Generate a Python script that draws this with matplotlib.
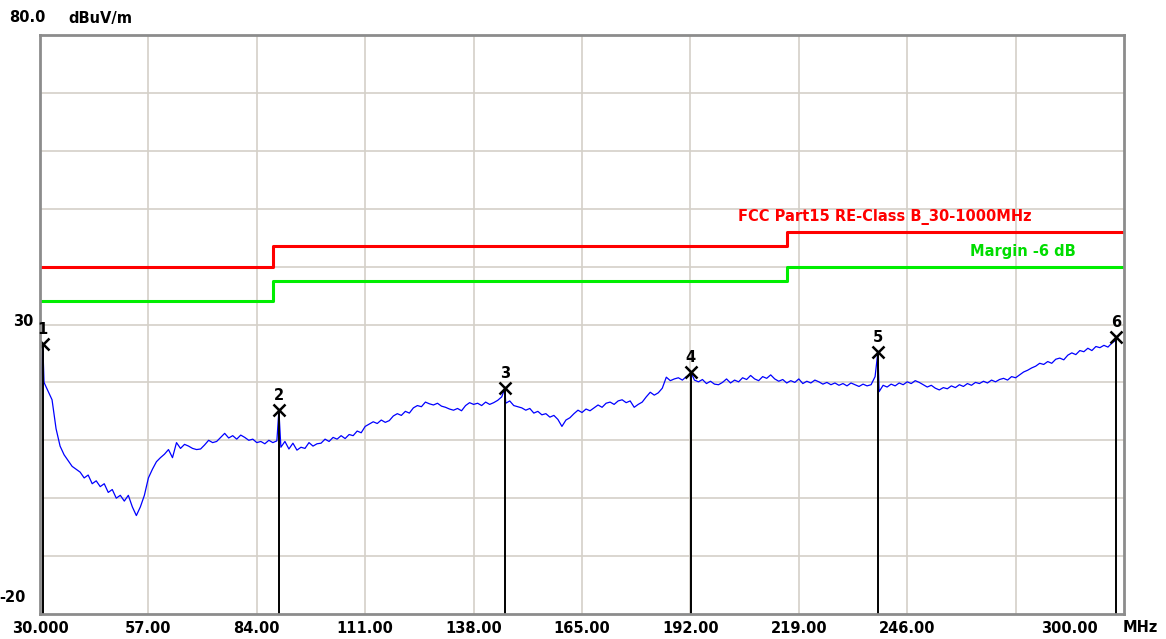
import numpy as np
import matplotlib
matplotlib.use('Agg')
import matplotlib.pyplot as plt
import matplotlib.transforms as mtransforms

# measured trace, 1 MHz steps from 30 to 298 MHz (dBuV/m)
freq = np.arange(30, 299, 1)
level = [
    17.0, 20.0, 18.5, 17.0, 12.0, 9.0, 7.5, 6.5, 5.5, 5.0,          # 30-39
    4.5, 3.5, 4.0, 2.5, 3.0, 2.0, 2.5, 1.0, 1.5, 0.0,               # 40-49
    0.5, -0.5, 0.5, -1.5, -3.0, -1.5, 0.5, 3.5, 5.0, 6.3,           # 50-59
    7.0, 7.6, 8.4, 7.0, 9.6, 8.6, 9.3, 9.0, 8.6, 8.4,               # 60-69
    8.5, 9.2, 10.0, 9.6, 9.8, 10.5, 11.2, 10.4, 10.8, 10.2,         # 70-79
    10.9, 10.5, 10.0, 10.2, 9.6, 9.8, 9.4, 10.0, 9.6, 9.9,          # 80-89
    8.8, 9.8, 8.5, 9.5, 8.3, 8.8, 8.6, 9.6, 9.0, 9.4,               # 90-99
    9.5, 10.2, 9.8, 10.5, 10.2, 10.8, 10.3, 11.0, 10.8, 11.6,       # 100-109
    11.3, 12.4, 12.8, 13.2, 12.9, 13.5, 13.1, 13.4, 14.2, 14.6,     # 110-119
    14.3, 15.0, 14.7, 15.6, 16.0, 15.8, 16.6, 16.3, 16.1, 16.4,     # 120-129
    15.9, 15.7, 15.4, 15.2, 15.5, 15.1, 16.0, 16.5, 16.2, 16.4,     # 130-139
    16.0, 16.6, 16.2, 16.5, 16.9, 17.5, 16.4, 16.8, 16.0, 15.8,     # 140-149
    15.6, 15.2, 15.5, 14.7, 15.0, 14.4, 14.6, 14.0, 14.3, 13.6,     # 150-159
    12.4, 13.5, 13.9, 14.6, 15.2, 14.8, 15.4, 15.1, 15.6, 16.1,     # 160-169
    15.7, 16.4, 16.6, 16.2, 16.8, 17.0, 16.5, 16.8, 15.7, 16.2,     # 170-179
    16.6, 17.5, 18.3, 17.8, 18.2, 19.0, 20.9, 20.3, 20.6, 20.8,     # 180-189
    20.4, 21.0, 21.3, 20.4, 20.1, 20.5, 19.8, 20.2, 19.7, 19.6,     # 190-199
    20.0, 20.6, 19.9, 20.4, 20.1, 20.8, 20.5, 21.2, 20.6, 20.3,     # 200-209
    21.0, 20.7, 21.3, 20.6, 20.2, 20.5, 19.9, 20.3, 20.0, 20.6,     # 210-219
    19.8, 20.2, 19.9, 20.4, 20.1, 19.7, 20.0, 19.6, 19.9, 19.5,     # 220-229
    19.8, 19.4, 19.9, 19.6, 19.3, 19.7, 19.4, 19.6, 21.0, 18.4,     # 230-239
    19.5, 19.2, 19.7, 19.4, 19.9, 19.6, 20.1, 19.8, 20.3, 20.0,     # 240-249
    19.6, 19.2, 19.5, 19.0, 18.7, 19.1, 18.9, 19.4, 19.1, 19.6,     # 250-259
    19.3, 19.8, 19.5, 20.0, 19.8, 20.2, 19.9, 20.4, 20.1, 20.5,     # 260-269
    20.7, 20.4, 21.0, 20.8, 21.3, 21.8, 22.1, 22.5, 22.8, 23.3,     # 270-279
    23.1, 23.6, 23.3, 24.0, 24.2, 23.9, 24.7, 25.1, 24.8, 25.5,     # 280-289
    25.3, 25.9, 25.5, 26.2, 26.0, 26.4, 26.1, 26.8, 27.3,           # 290-298
]

# peak markers
mk_freq = [30.7, 89.5, 145.8, 192.1, 238.7, 298.0]
mk_level = [26.6, 15.2, 19.0, 21.8, 25.25, 27.8]

# FCC Part 15 class B limit (steps) and -6 dB margin
lim_freq = [30, 88, 88, 216, 216, 300]
lim_level = [40.0, 40.0, 43.5, 43.5, 46.0, 46.0]
margin = -6

xtick_vals = [30, 57, 84, 111, 138, 165, 192, 219, 246, 273]
xtick_labels = ['30.000', '57.00', '84.00', '111.00', '138.00', '165.00',
                '192.00', '219.00', '246.00', '']

# merge marker spikes into the trace
f_all = np.concatenate([freq, mk_freq])
l_all = np.concatenate([level, mk_level])
order = np.argsort(f_all, kind='stable')
f_all = f_all[order]
l_all = l_all[order]

fs = 10.5
fw = 'bold'

fig = plt.figure(figsize=(11.66, 6.39), dpi=100)
ax = fig.add_axes([40/1166, 1-614/639, 1084/1166, 579/639])
ax.set_xlim(30, 300)
ax.set_ylim(-20, 80)

ax.set_xticks(xtick_vals)
ax.set_xticklabels(xtick_labels, fontsize=fs, fontweight=fw)
ax.set_yticks(np.arange(-10, 80, 10))
ax.set_yticklabels([])
ax.tick_params(length=0, pad=5)
ax.grid(True, color='#d4d0c8', linewidth=1.2)
ax.set_axisbelow(True)
for s in ax.spines.values():
    s.set_color('#8c8c8c')
    s.set_linewidth(2)

# limit lines
ax.plot(lim_freq, lim_level, color='#ff0000', lw=2.2)
ax.plot(lim_freq, np.array(lim_level) + margin, color='#00ee00', lw=2.2)
ax.text(203.8, 48.6, 'FCC Part15 RE-Class B_30-1000MHz',
        color='#ff0000', fontsize=fs, fontweight=fw, va='center')
ax.text(261.6, 42.6, 'Margin -6 dB', color='#00dd00', fontsize=fs,
        fontweight=fw, va='center')

# trace
ax.plot(f_all, l_all, color='#0000ff', lw=0.9)

# markers
for i, (mf, ml) in enumerate(zip(mk_freq, mk_level)):
    ax.plot([mf, mf], [-20, ml], color='black', lw=1.4)
    ax.plot(mf, ml, marker='x', color='black', ms=8, mew=1.8)
    ax.annotate(str(i + 1), (mf, ml), xytext=(0, 5), textcoords='offset points',
                ha='center', va='bottom', fontsize=fs, fontweight=fw)

# axis annotations drawn like the analyser screen
trans = mtransforms.blended_transform_factory(ax.transData, ax.transAxes)
ax.text(286.5, -0.025, '300.00', transform=trans, ha='center', va='center',
        fontsize=fs, fontweight=fw)
fig.text(1140/1166, 1-628/639, 'MHz', ha='center', va='center',
         fontsize=fs, fontweight=fw)
fig.text(27/1166, 1-18/639, '80.0', ha='center', va='center',
         fontsize=fs, fontweight=fw)
fig.text(100/1166, 1-18/639, 'dBuV/m', ha='center', va='center',
         fontsize=fs, fontweight=fw)
fig.text(23/1166, 1-322/639, '30', ha='center', va='center',
         fontsize=fs, fontweight=fw)
fig.text(12/1166, 1-597/639, '-20', ha='center', va='center',
         fontsize=fs, fontweight=fw)

fig.savefig('out.png', dpi=100)
